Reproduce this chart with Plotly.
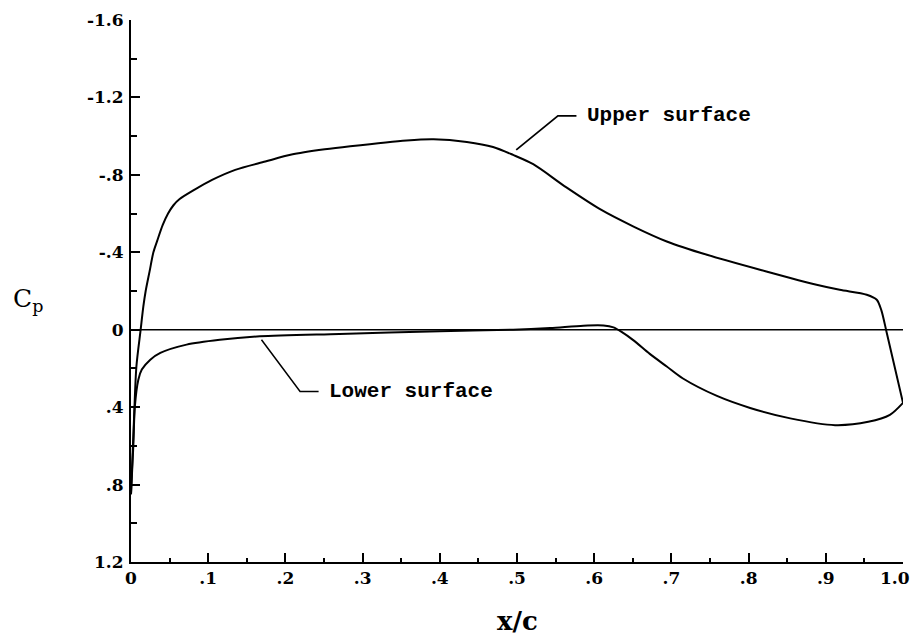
import plotly.graph_objects as go

# Upper surface pressure distribution (x/c, Cp)
upper_x = [0.0, 0.004, 0.007, 0.0125, 0.016, 0.019, 0.024, 0.029, 0.034, 0.041, 0.048, 0.055, 0.063, 0.083,
           0.105, 0.135, 0.174, 0.208, 0.251, 0.284, 0.357, 0.392, 0.435, 0.469, 0.495, 0.521,
           0.564, 0.607, 0.651, 0.694, 0.746, 0.823, 0.888, 0.918, 0.953, 0.966, 0.972, 0.979, 1.0]
upper_cp = [0.85, 0.45, 0.19, 0.0, -0.12, -0.2, -0.3, -0.4, -0.46, -0.54, -0.60, -0.643, -0.675, -0.725,
            -0.774, -0.826, -0.869, -0.905, -0.932, -0.948, -0.978, -0.984, -0.970, -0.944, -0.903, -0.855,
            -0.735, -0.624, -0.533, -0.456, -0.387, -0.301, -0.232, -0.206, -0.181, -0.155, -0.10, 0.017, 0.378]

# Lower surface pressure distribution (x/c, Cp)
lower_x = [0.0, 0.003, 0.005, 0.0095, 0.014, 0.025, 0.038, 0.072, 0.115, 0.167, 0.27, 0.4,
           0.495, 0.543, 0.586, 0.612, 0.625, 0.635, 0.651, 0.672, 0.694, 0.715, 0.759, 0.802,
           0.854, 0.912, 0.955, 0.983, 1.0]
lower_cp = [0.85, 0.6, 0.396, 0.258, 0.206, 0.155, 0.12, 0.077, 0.052, 0.034, 0.022, 0.008,
            0.0, -0.009, -0.021, -0.022, -0.012, 0.01, 0.055, 0.125, 0.19, 0.252, 0.342, 0.404,
            0.458, 0.493, 0.476, 0.44, 0.378]

x_ticks = [0, 0.1, 0.2, 0.3, 0.4, 0.5, 0.6, 0.7, 0.8, 0.9, 1.0]
x_ticktext = ["0", ".1", ".2", ".3", ".4", ".5", ".6", ".7", ".8", ".9", ""]
x_last_label = "1.0"   # drawn just inside the page edge, like the reference
y_ticks = [-1.6, -1.2, -0.8, -0.4, 0, 0.4, 0.8, 1.2]
y_ticktext = ["-1.6", "-1.2", "-.8", "-.4", "0", ".4", ".8", "1.2"]

# leader lines for labels (x/c, Cp)
upper_leader_x = [0.499, 0.553, 0.577]
upper_leader_cp = [-0.929, -1.105, -1.105]
lower_leader_x = [0.169, 0.219, 0.243]
lower_leader_cp = [0.052, 0.319, 0.319]

fig = go.Figure()
fig.add_trace(go.Scatter(x=upper_x, y=upper_cp, mode="lines",
                         line=dict(color="black", width=2, shape="spline", smoothing=0.8)))
fig.add_trace(go.Scatter(x=lower_x, y=lower_cp, mode="lines",
                         line=dict(color="black", width=2, shape="spline", smoothing=0.8)))
fig.add_trace(go.Scatter(x=upper_leader_x, y=upper_leader_cp, mode="lines",
                         line=dict(color="black", width=1.8)))
fig.add_trace(go.Scatter(x=lower_leader_x, y=lower_leader_cp, mode="lines",
                         line=dict(color="black", width=1.5)))
# zero line
fig.add_trace(go.Scatter(x=[0, 1.003], y=[0, 0], mode="lines",
                         line=dict(color="black", width=1.5)))

tickfont = dict(family="DejaVu Serif", size=17, color="black", weight="bold")
fig.update_layout(
    width=913, height=636, autosize=False,
    margin=dict(l=131, r=10, t=20, b=73.5, autoexpand=False),
    paper_bgcolor="white", plot_bgcolor="white",
    showlegend=False,
    xaxis=dict(range=[0, 1.0], tickvals=x_ticks, ticktext=x_ticktext,
               ticks="inside", ticklen=9, tickwidth=1.5, tickcolor="black",
               showline=True, linecolor="black", linewidth=2,
               showgrid=False, zeroline=False, tickfont=tickfont,
               ticklabeloverflow="allow", automargin=False,
               minor=dict(dtick=0.05, tick0=0, ticks="inside", ticklen=4,
                          tickwidth=1.5, tickcolor="black", showgrid=False)),
    yaxis=dict(range=[1.2, -1.6], tickvals=y_ticks, ticktext=y_ticktext,
               ticks="inside", ticklen=9, tickwidth=1.5, tickcolor="black",
               showline=True, linecolor="black", linewidth=2,
               showgrid=False, zeroline=False, tickfont=tickfont,
               ticklabeloverflow="allow", ticklabelstandoff=2, automargin=False,
               minor=dict(dtick=0.2, tick0=0, ticks="inside", ticklen=6,
                          tickwidth=1.5, tickcolor="black", showgrid=False)),
)

fig.add_annotation(x=x_ticks[-1], y=-0.0286, xref="x", yref="paper", text=x_last_label,
                   showarrow=False, xanchor="center", yanchor="middle", xshift=-8,
                   font=tickfont)

mono = dict(family="Liberation Mono", size=21, color="black", weight="bold")
fig.add_annotation(x=0.588, y=-1.105, xref="x", yref="y", text="Upper surface",
                   showarrow=False, xanchor="left", yanchor="middle", font=mono)
fig.add_annotation(x=0.254, y=0.317, xref="x", yref="y", text="Lower surface",
                   showarrow=False, xanchor="left", yanchor="middle", font=mono)
fig.add_annotation(x=-0.155, y=0.484, xref="paper", yref="paper",
                   text="C<sub>p</sub>", showarrow=False, xanchor="left", yanchor="middle",
                   font=dict(family="DejaVu Serif", size=25, color="black"))
fig.add_annotation(x=0.5, y=-0.108, xref="paper", yref="paper",
                   text="x/c", showarrow=False, xanchor="center", yanchor="middle",
                   font=dict(family="DejaVu Serif", size=26, color="black", weight="bold"))

fig.write_html("out.html")
